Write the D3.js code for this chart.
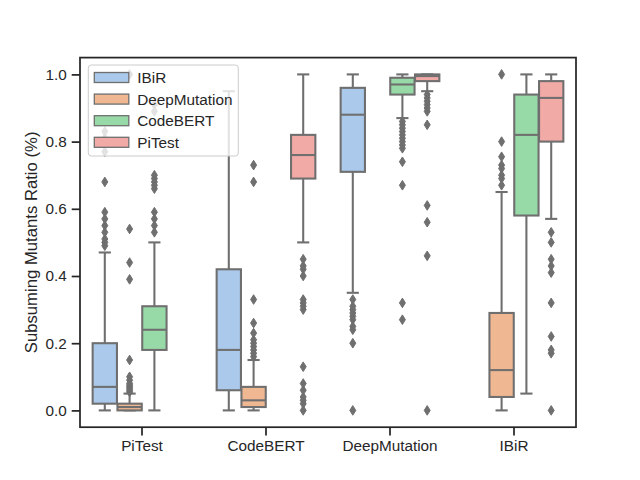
<!DOCTYPE html>
<html>
<head>
<meta charset="utf-8">
<script src="https://cdn.jsdelivr.net/npm/d3@7"></script>
<style>
  body { margin: 0; background: #fff; }
  text { font-family: "Liberation Sans", Arial, sans-serif; fill: #262626; }
</style>
</head>
<body>
<div id="chart"></div>
<script>
const groups = ["PiTest", "CodeBERT", "DeepMutation", "IBiR"];
const hues = ["IBiR", "DeepMutation", "CodeBERT", "PiTest"];
const hueColors = ["#abc9ea", "#efb792", "#98daa7", "#f2aaa7"];

// one entry per box: group name, hue name and five-number summary
const boxGroup = ["PiTest", "PiTest", "PiTest", "CodeBERT", "CodeBERT", "CodeBERT",
                  "DeepMutation", "DeepMutation", "DeepMutation", "IBiR", "IBiR", "IBiR"];
const boxHue = ["IBiR", "DeepMutation", "CodeBERT", "IBiR", "DeepMutation", "PiTest",
                "IBiR", "CodeBERT", "PiTest", "DeepMutation", "CodeBERT", "PiTest"];
const whiskerLow = [0.00, 0.00, 0.00, 0.00, 0.00, 0.50, 0.35, 0.87, 0.95, 0.00, 0.05, 0.57];
const q1 = [0.02, 0.00, 0.18, 0.06, 0.01, 0.69, 0.71, 0.94, 0.98, 0.04, 0.58, 0.80];
const median = [0.07, 0.01, 0.24, 0.18, 0.03, 0.76, 0.88, 0.97, 0.995, 0.12, 0.82, 0.93];
const q3 = [0.20, 0.02, 0.31, 0.42, 0.07, 0.82, 0.96, 0.99, 1.00, 0.29, 0.94, 0.98];
const whiskerHigh = [0.47, 0.05, 0.50, 0.95, 0.15, 1.00, 1.00, 1.00, 1.00, 0.65, 1.00, 1.00];
const fliers = [
  [0.49, 0.50, 0.51, 0.53, 0.55, 0.57, 0.59, 0.68, 0.77, 0.79, 0.81, 0.83],
  [0.055, 0.06, 0.065, 0.07, 0.075, 0.08, 0.09, 0.10, 0.15, 0.39, 0.44, 0.54, 1.00],
  [0.53, 0.55, 0.57, 0.59, 0.66, 0.67, 0.68, 0.69, 0.70, 0.89, 0.91],
  [],
  [0.16, 0.17, 0.18, 0.19, 0.20, 0.21, 0.23, 0.26, 0.33, 0.68, 0.73],
  [0.00, 0.02, 0.03, 0.04, 0.06, 0.08, 0.13, 0.30, 0.31, 0.32, 0.33, 0.40, 0.42, 0.43, 0.45],
  [0.00, 0.20, 0.24, 0.25, 0.27, 0.28, 0.29, 0.30, 0.31, 0.33],
  [0.27, 0.32, 0.67, 0.74, 0.78, 0.79, 0.80, 0.81, 0.82, 0.83, 0.84, 0.85, 0.86],
  [0.00, 0.46, 0.56, 0.61, 0.85, 0.89, 0.90, 0.91, 0.92, 0.93, 0.94],
  [0.67, 0.69, 0.70, 0.72, 0.73, 0.755, 0.80, 1.00],
  [],
  [0.00, 0.17, 0.18, 0.22, 0.32, 0.41, 0.43, 0.45, 0.50, 0.53]
];
const yTicks = [0.0, 0.2, 0.4, 0.6, 0.8, 1.0];

let width = 640, height = 480;
let plotLeft = 80, plotRight = 576, plotTop = 57.6, plotBottom = 427.2;
let gray = "#6f6f6f";

let svg = d3.select("#chart")
    .append("svg")
    .attr("width", width)
    .attr("height", height);

let x = d3.scaleBand().domain(groups).range([plotLeft, plotRight]);
let hx = d3.scaleBand().domain(hues).range([-0.4 * x.bandwidth(), 0.4 * x.bandwidth()]);
let y = d3.scaleLinear().domain([-0.05, 1.05]).range([plotBottom, plotTop]);
let color = d3.scaleOrdinal().domain(hues).range(hueColors);

let boxW = hx.bandwidth() * 0.98;
let capW = boxW * 0.5;

let boxes = boxGroup.map(function(g, i) {
    return {
        group: g, hue: boxHue[i],
        lo: whiskerLow[i], q1: q1[i], med: median[i], q3: q3[i], hi: whiskerHigh[i],
        fliers: fliers[i],
        cx: x(g) + x.bandwidth() / 2 + hx(boxHue[i]) + hx.bandwidth() / 2
    };
});

let box = svg.append("g")
    .selectAll(null)
    .data(boxes)
    .enter()
    .append("g");

box.append("line")
    .attr("x1", d => d.cx).attr("x2", d => d.cx)
    .attr("y1", d => y(d.lo)).attr("y2", d => y(d.q1))
    .attr("stroke", gray).attr("stroke-width", 2.08);
box.append("line")
    .attr("x1", d => d.cx).attr("x2", d => d.cx)
    .attr("y1", d => y(d.q3)).attr("y2", d => y(d.hi))
    .attr("stroke", gray).attr("stroke-width", 2.08);
box.append("line")
    .attr("x1", d => d.cx - capW / 2).attr("x2", d => d.cx + capW / 2)
    .attr("y1", d => y(d.lo)).attr("y2", d => y(d.lo))
    .attr("stroke", gray).attr("stroke-width", 2.08);
box.append("line")
    .attr("x1", d => d.cx - capW / 2).attr("x2", d => d.cx + capW / 2)
    .attr("y1", d => y(d.hi)).attr("y2", d => y(d.hi))
    .attr("stroke", gray).attr("stroke-width", 2.08);
box.append("rect")
    .attr("x", d => d.cx - boxW / 2)
    .attr("y", d => y(d.q3))
    .attr("width", boxW)
    .attr("height", d => y(d.q1) - y(d.q3))
    .attr("fill", d => color(d.hue))
    .attr("stroke", gray).attr("stroke-width", 2.08);
box.append("line")
    .attr("x1", d => d.cx - boxW / 2).attr("x2", d => d.cx + boxW / 2)
    .attr("y1", d => y(d.med)).attr("y2", d => y(d.med))
    .attr("stroke", gray).attr("stroke-width", 2.08);

// thin diamond markers for outliers
let diamond = "M0,-4.8L3,0L0,4.8L-3,0Z";
box.selectAll(null)
    .data(d => d.fliers.map(v => ({ cx: d.cx, v: v })))
    .enter()
    .append("path")
    .attr("d", diamond)
    .attr("transform", d => "translate(" + d.cx + "," + y(d.v) + ")")
    .attr("fill", gray)
    .attr("stroke", gray)
    .attr("stroke-width", 1);

// axes
let yAxis = svg.append("g")
    .attr("transform", "translate(" + plotLeft + ",0)")
    .call(d3.axisLeft(y).tickValues(yTicks).tickFormat(d3.format(".1f")).tickSize(8.3).tickPadding(4.9));
let xAxis = svg.append("g")
    .attr("transform", "translate(0," + plotBottom + ")")
    .call(d3.axisBottom(x).tickSize(8.3).tickPadding(4.9));

[yAxis, xAxis].forEach(function(a) {
    a.select(".domain").remove();
    a.selectAll(".tick line").attr("stroke", "#262626").attr("stroke-width", 1.74);
    a.selectAll(".tick text")
        .style("font-family", "'Liberation Sans', Arial, sans-serif")
        .style("font-size", "15.3px")
        .attr("fill", "#262626");
});

svg.append("rect")
    .attr("x", plotLeft).attr("y", plotTop)
    .attr("width", plotRight - plotLeft).attr("height", plotBottom - plotTop)
    .attr("fill", "none")
    .attr("stroke", "#262626")
    .attr("stroke-width", 1.74);

svg.append("text")
    .attr("transform", "translate(31.5," + (plotTop + plotBottom) / 2 + ") rotate(-90)")
    .attr("dy", "0.35em")
    .style("text-anchor", "middle")
    .style("font-size", "16.7px")
    .text("Subsuming Mutants Ratio (%)");

// legend
let legend = svg.append("g");
legend.append("rect")
    .attr("x", 88.3).attr("y", 65)
    .attr("width", 150).attr("height", 91)
    .attr("rx", 3)
    .attr("fill", "white").attr("fill-opacity", 0.8)
    .attr("stroke", "#cccccc").attr("stroke-width", 1);

let item = legend.selectAll(null)
    .data(hues)
    .enter()
    .append("g")
    .attr("transform", (d, i) => "translate(0," + (77.5 + i * 21.6) + ")");
item.append("rect")
    .attr("x", 94.3).attr("y", -5)
    .attr("width", 34.5).attr("height", 10)
    .attr("fill", d => color(d))
    .attr("stroke", gray).attr("stroke-width", 1.3);
item.append("text")
    .attr("x", 137.3)
    .attr("dy", "0.36em")
    .style("font-size", "15.3px")
    .text(d => d);
</script>
</body>
</html>
